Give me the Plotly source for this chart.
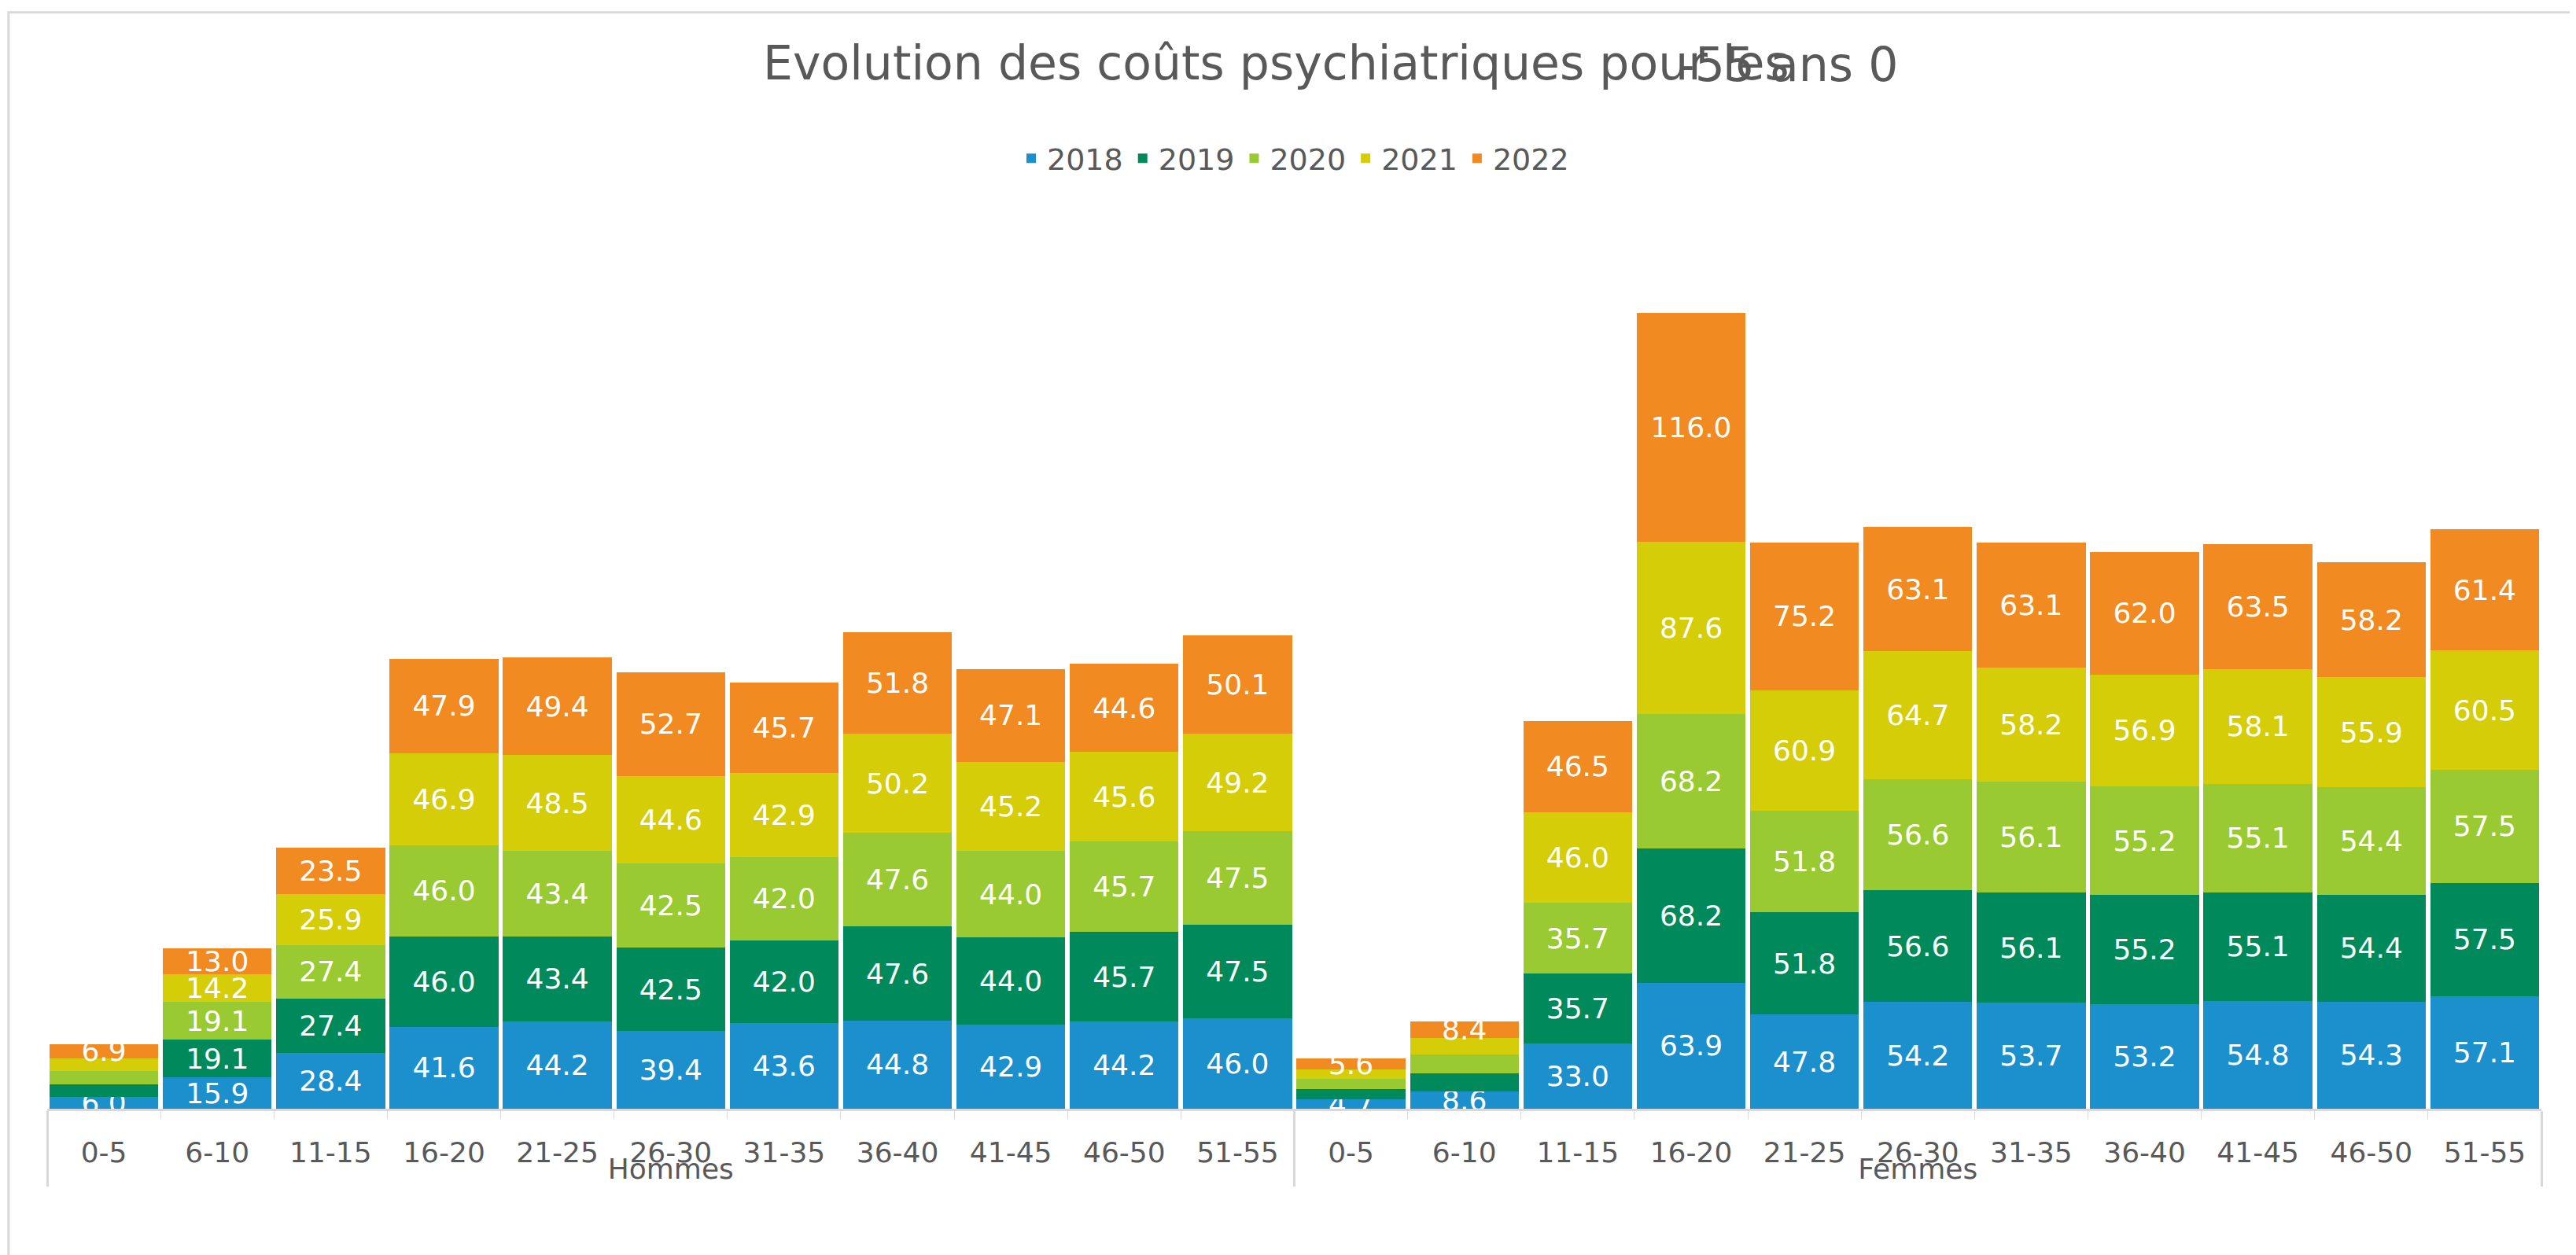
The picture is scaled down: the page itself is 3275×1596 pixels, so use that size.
import plotly.graph_objects as go

# ── Data ─────────────────────────────────────────────────────────────────────
AGES = ["0-5", "6-10", "11-15", "16-20", "21-25", "26-30", "31-35", "36-40", "41-45", "46-50", "51-55"]
GROUPS = ["Hommes", "Femmes"]
YEARS = ["2018", "2019", "2020", "2021", "2022"]

hommes_2018 = [6.0, 15.9, 28.4, 41.6, 44.2, 39.4, 43.6, 44.8, 42.9, 44.2, 46.0]
hommes_2019 = [6.5, 19.1, 27.4, 46.0, 43.4, 42.5, 42.0, 47.6, 44.0, 45.7, 47.5]
hommes_2020 = [6.5, 19.1, 27.4, 46.0, 43.4, 42.5, 42.0, 47.6, 44.0, 45.7, 47.5]
hommes_2021 = [6.7, 14.2, 25.9, 46.9, 48.5, 44.6, 42.9, 50.2, 45.2, 45.6, 49.2]
hommes_2022 = [6.9, 13.0, 23.5, 47.9, 49.4, 52.7, 45.7, 51.8, 47.1, 44.6, 50.1]

femmes_2018 = [4.7, 8.6, 33.0, 63.9, 47.8, 54.2, 53.7, 53.2, 54.8, 54.3, 57.1]
femmes_2019 = [5.2, 9.5, 35.7, 68.2, 51.8, 56.6, 56.1, 55.2, 55.1, 54.4, 57.5]
femmes_2020 = [5.2, 9.5, 35.7, 68.2, 51.8, 56.6, 56.1, 55.2, 55.1, 54.4, 57.5]
femmes_2021 = [4.7, 8.2, 46.0, 87.6, 60.9, 64.7, 58.2, 56.9, 58.1, 55.9, 60.5]
femmes_2022 = [5.6, 8.4, 46.5, 116.0, 75.2, 63.1, 63.1, 62.0, 63.5, 58.2, 61.4]

SERIES = {
    "2018": hommes_2018 + femmes_2018,
    "2019": hommes_2019 + femmes_2019,
    "2020": hommes_2020 + femmes_2020,
    "2021": hommes_2021 + femmes_2021,
    "2022": hommes_2022 + femmes_2022,
}

# labels Excel dropped because the segment was too thin
HIDDEN = {
    ("2019", 0), ("2020", 0), ("2021", 0),
    ("2019", 11), ("2020", 11), ("2021", 11),
    ("2019", 12), ("2020", 12), ("2021", 12),
}

COLORS = {
    "2018": "#1B90CD",
    "2019": "#008A5B",
    "2020": "#9ACA32",
    "2021": "#D4CD08",
    "2022": "#F08A21",
}

x_groups = [g for g in GROUPS for _ in AGES]
x_ages = AGES * len(GROUPS)

# ── Figure ───────────────────────────────────────────────────────────────────
fig = go.Figure()
for yr in YEARS:
    vals = SERIES[yr]
    labels = ["" if (yr, i) in HIDDEN else f"{v:.1f}" for i, v in enumerate(vals)]
    fig.add_trace(go.Bar(
        x=[x_groups, x_ages],
        y=vals,
        name=yr,
        marker=dict(color=COLORS[yr], line=dict(width=0)),
        text=labels,
        textposition="inside",
        insidetextanchor="middle",
        textangle=0,
        constraintext="none",
        cliponaxis=False,
        textfont=dict(color="white", size=36, family="DejaVu Sans"),
    ))

fig.update_layout(
    barmode="stack",
    bargap=0.04,
    width=3275,
    height=1596,
    paper_bgcolor="white",
    plot_bgcolor="white",
    font=dict(family="DejaVu Sans", color="#595959", size=36),
    title=dict(
        text="Evolution des coûts psychiatriques pour les",
        x=0.287, xanchor="left", xref="paper",
        y=0.955, yanchor="middle",
        font=dict(size=60, color="#595959"),
    ),
    legend=dict(
        orientation="h", x=0.5, xanchor="center", y=1.06, yanchor="middle",
        font=dict(size=38, color="#595959"),
        traceorder="normal", itemwidth=30,
    ),
    margin=dict(l=52, r=52, t=262, b=194),
    xaxis=dict(
        showgrid=False,
        showline=True, linecolor="#D9D9D9", linewidth=3,
        ticks="outside", tickcolor="#D9D9D9", ticklen=10,
        ticklabelstandoff=22,
        showdividers=True, dividercolor="#D9D9D9", dividerwidth=3,
        tickfont=dict(size=36, color="#595959"),
    ),
    yaxis=dict(range=[0, 455], visible=False, showgrid=False),
    showlegend=True,
)

# title overlap as it appears in the source ("0-55 ans" rendered over "our les")
fig.add_annotation(
    text="-55 ans 0", xref="paper", yref="paper", x=0.698, y=1.165,
    xanchor="center", yanchor="middle", showarrow=False,
    font=dict(size=60, color="#595959", family="DejaVu Sans"),
)

fig.add_shape(
    type="rect", xref="paper", yref="paper",
    x0=-0.0155, x1=1.0155, y0=-0.165, y1=1.223,
    line=dict(color="#D9D9D9", width=3),
)

fig.write_html("out.html")
